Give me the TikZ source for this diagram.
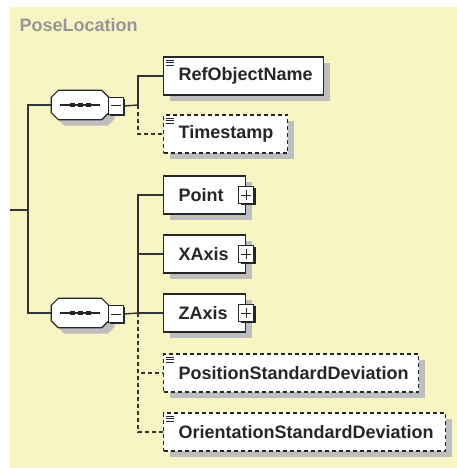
\documentclass[tikz,border=0pt]{standalone}
\usepackage{fontspec}
\setmainfont{Liberation Sans}
\usetikzlibrary{shadows}
\definecolor{bgyellow}{RGB}{247,245,195}
\definecolor{titlegray}{RGB}{150,150,150}
\definecolor{shadowgray}{RGB}{190,190,190}

\begin{document}
\begin{tikzpicture}[x=1pt,y=-1pt,line width=1.4pt,draw=black!80,
    elem/.style={draw=black!85,line width=1.2pt,fill=white,anchor=west,
      minimum height=38pt,inner xsep=0pt,inner ysep=0pt,align=left,
      font=\fontsize{18}{20}\selectfont\bfseries,text=black!85,
      execute at begin node={\hspace*{15pt}},
      drop shadow={shadow xshift=6pt,shadow yshift=-6pt,fill=shadowgray,opacity=1}},
    opt/.style={dash pattern=on 4pt off 3pt},
    leaf/.style={path picture={
      \foreach \d in {3,5.5,8}
        \draw[solid,line width=0.7pt,black!85] ([xshift=2pt,yshift=-\d pt]path picture bounding box.north west) -- ++(8,0);}},
    seq/.style={minimum width=56pt,minimum height=28pt,inner sep=0pt},
    octa/.style={draw=black!85,line width=1.2pt,fill=white,
      drop shadow={shadow xshift=6pt,shadow yshift=-6pt,fill=shadowgray,opacity=1}},
    tog/.style={draw=black!85,fill=white,line width=1pt,minimum width=15pt,minimum height=17pt,inner sep=0pt,
      drop shadow={shadow xshift=1.8pt,shadow yshift=-1.8pt,fill=black!85,opacity=1}},
    minusbox/.style={tog,path picture={
      \draw[line width=1pt,black!85] ([xshift=-5pt]path picture bounding box.center) -- ([xshift=5pt]path picture bounding box.center);}},
    plusbox/.style={tog,path picture={
      \draw[line width=1pt,black!85] ([xshift=-5pt]path picture bounding box.center) -- ([xshift=5pt]path picture bounding box.center)
        ([yshift=-5pt]path picture bounding box.center) -- ([yshift=5pt]path picture bounding box.center);}}]

\useasboundingbox (0,0) rectangle (457,468);
\fill[bgyellow] (10,7) rectangle (457,468);

\node[anchor=base west,inner sep=0pt,text=titlegray,font=\fontsize{18}{20}\selectfont\bfseries] (title) at (19,32) {PoseLocation};

% sequences
\node[seq] (seq1) at (80,105) {};
\node[seq] (seq2) at (80,313) {};
\foreach \s in {seq1,seq2}{
  \path[octa] ([xshift=7pt]\s.north west) -- ([xshift=-7pt]\s.north east) -- ([yshift=-7pt]\s.north east)
    -- ([yshift=7pt]\s.south east) -- ([xshift=-7pt]\s.south east) -- ([xshift=7pt]\s.south west)
    -- ([yshift=7pt]\s.south west) -- ([yshift=-7pt]\s.north west) -- cycle;
  \draw[line width=1.2pt,black!85] ([xshift=-20pt]\s.center) -- ([xshift=20pt]\s.center);
  \foreach \d in {-8,0,8}
    \fill[black!85] ([xshift=\d pt]\s.center) +(-2.5,-2.2) rectangle +(2.5,2.2);
}
\node[minusbox] (min1) at (116,106) {};
\node[minusbox] (min2) at (116,314) {};

\coordinate (root) at (10,210);
\coordinate (fork) at (28,210);
\coordinate (bus1) at (138,105);
\coordinate (bus2) at (138,313);

% elements
\node[elem,leaf,text width=160pt] (refname) at (163,76) {RefObjectName};
\node[elem,leaf,opt,text width=124pt] (stamp) at (163,134) {Timestamp};
\node[elem,text width=82pt] (point) at (163,195) {Point};
\node[elem,text width=82pt] (xaxis) at (163,254) {XAxis};
\node[elem,text width=82pt] (zaxis) at (163,313) {ZAxis};
\node[elem,leaf,opt,text width=255pt] (possd) at (163,373) {PositionStandardDeviation};
\node[elem,leaf,opt,text width=282pt] (orisd) at (163,432) {OrientationStandardDeviation};

\node[plusbox] (pointplus) at (point.east) {};
\node[plusbox] (xaxisplus) at (xaxis.east) {};
\node[plusbox] (zaxisplus) at (zaxis.east) {};

% connectors
\draw (root) -- (fork);
\draw (fork) |- (seq1.west);
\draw (fork) |- (seq2.west);
\draw (min1.east) -- (bus1);
\draw (bus1) |- (refname.west);
\draw[opt] (bus1) |- (stamp.west);
\draw (min2.east) -- (bus2);
\draw (bus2) |- (point.west);
\draw (bus2) |- (xaxis.west);
\draw (bus2) -- (zaxis.west);
\draw[opt] (bus2) |- (possd.west);
\draw[opt] (bus2) |- (orisd.west);
\end{tikzpicture}
\end{document}
